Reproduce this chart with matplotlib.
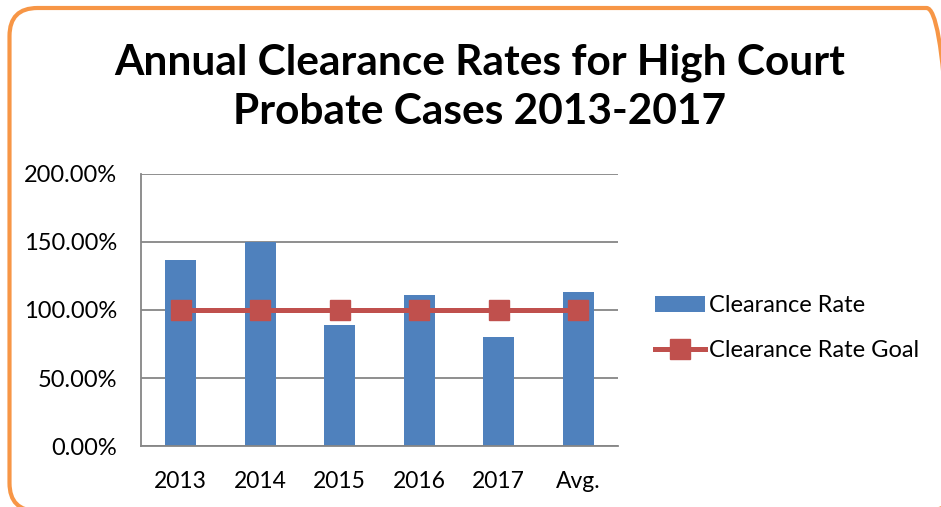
import matplotlib
matplotlib.use("Agg")
import matplotlib.pyplot as plt
from matplotlib.patches import FancyBboxPatch
from matplotlib.ticker import FuncFormatter
import numpy as np

# data
categories = ["2013", "2014", "2015", "2016", "2017", "Avg."]
clearance_rate = [136.5, 150.2, 89.0, 111.0, 80.0, 113.3]
clearance_goal = [100, 100, 100, 100, 100, 100]

plt.rcParams["font.family"] = ["Lato", "DejaVu Sans"]

W, H = 941, 507
fig = plt.figure(figsize=(W / 100, H / 100), dpi=100)
fig.patch.set_facecolor("white")

# orange rounded frame (inches), running off the right/bottom edges
frame = FancyBboxPatch((0.095, -0.04), 9.45, 5.03,
                       boxstyle="round,pad=0,rounding_size=0.28",
                       transform=fig.dpi_scale_trans, facecolor="none",
                       edgecolor="#F79646", linewidth=3, clip_on=False)
fig.patches.append(frame)

ax = fig.add_axes([141 / W, 1 - 446.3 / H, 477 / W, 272.6 / H])
x = np.arange(len(categories))
bars = ax.bar(x, clearance_rate, width=0.39, color="#4F81BD", zorder=2,
              label="Clearance Rate")
line, = ax.plot(x, clearance_goal, color="#C0504D", linewidth=3.6, marker="s",
                markersize=14, zorder=3, label="Clearance Rate Goal")

ax.set_xlim(-0.5, len(categories) - 0.5)
ax.set_ylim(0, 200)
ax.set_yticks([0, 50, 100, 150, 200])
ax.yaxis.set_major_formatter(FuncFormatter(lambda v, p: f"{v:.2f}%"))
ax.set_xticks(x)
ax.set_xticklabels(categories)
ax.tick_params(axis="x", labelsize=16.5, length=0, pad=18)
ax.tick_params(axis="y", labelsize=17, length=0, pad=17)
ax.grid(axis="y", color="#868686", linewidth=1.3, zorder=0)
for side in ["top", "right"]:
    ax.spines[side].set_visible(False)
for side in ["left", "bottom"]:
    ax.spines[side].set_color("#868686")
    ax.spines[side].set_linewidth(1.3)

fig.text(480 / W, 1 - 87 / H, "Annual Clearance Rates for High Court\nProbate Cases 2013-2017",
         ha="center", va="center", fontsize=30.5, fontweight="bold",
         linespacing=1.36)

fig.legend([bars, line], ["Clearance Rate", "Clearance Rate Goal"],
           loc="center left", bbox_to_anchor=(655 / W, 1 - 328 / H),
           frameon=False, fontsize=17, handlelength=2.1, labelspacing=1.0,
           handletextpad=0.2, borderpad=0, borderaxespad=0)

fig.savefig("out.png", dpi=100)
